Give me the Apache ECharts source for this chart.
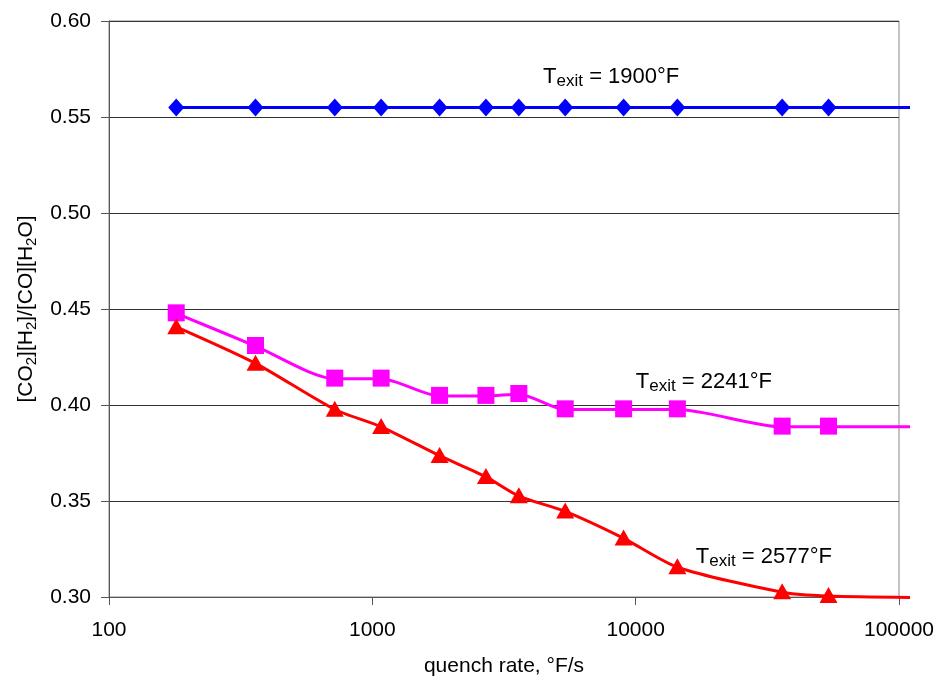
<!DOCTYPE html>
<html>
<head>
<meta charset="utf-8">
<script src="https://cdn.jsdelivr.net/npm/echarts@6/dist/echarts.min.js"></script>
<style>
  html, body { margin: 0; padding: 0; background: #fff; }
  #chart { width: 939px; height: 682px; }
</style>
</head>
<body>
<div id="chart"></div>
<script>
// quench rates, °F/s (marker positions)
const qRate = [180, 360, 720, 1080, 1800, 2700, 3600, 5400, 9000, 14400, 36000, 54000];
// [CO2][H2]/[CO][H2O] for each exit temperature
const ratio1900 = [0.555, 0.555, 0.555, 0.555, 0.555, 0.555, 0.555, 0.555, 0.555, 0.555, 0.555, 0.555];
const ratio2241 = [0.448, 0.431, 0.414, 0.414, 0.405, 0.405, 0.406, 0.398, 0.398, 0.398, 0.389, 0.389];
const ratio2577 = [0.441, 0.422, 0.398, 0.389, 0.374, 0.363, 0.353, 0.345, 0.331, 0.316, 0.303, 0.301];
// the smoothed curves run on past the last marker, a bit beyond the axis end
const curveEndRate = 110000;
const curveEnd = [0.555, 0.389, 0.3003];
// axis ranges
const xRange = [100, 100000];
const yRange = [0.30, 0.60];
const yStep = 0.05;

const font = 'Liberation Sans, Arial, sans-serif';

// label text "T_exit = ...°F"
const rich = {
  t: { fontFamily: font, fontSize: 22, color: '#000', lineHeight: 26 },
  s: { fontFamily: font, fontSize: 17, color: '#000', lineHeight: 13, verticalAlign: 'bottom' }
};

// curves are drawn on a second (hidden) grid that has the same scale
// but reaches a little past 100000, as the lines do in the original
function curve(values, endValue, color, labelText, labelAt) {
  const data = qRate.map((r, i) => [r, values[i]]);
  data.push([curveEndRate, endValue]);
  return {
    type: 'line',
    xAxisIndex: 1,
    yAxisIndex: 1,
    data: data,
    smooth: 0.25,
    showSymbol: false,
    silent: true,
    lineStyle: { color: color, width: 3 },
    markPoint: {
      symbol: 'circle',
      symbolSize: 0,
      silent: true,
      data: [{ coord: labelAt }],
      label: {
        show: true,
        position: 'right',
        distance: 0,
        formatter: '{t|T}{s|exit}{t| = ' + labelText + '°F}',
        rich: rich
      }
    }
  };
}

function markers(values, symbol, size, color) {
  return {
    type: 'scatter',
    data: qRate.map((r, i) => [r, values[i]]),
    symbol: symbol,
    symbolSize: size,
    silent: true,
    itemStyle: { color: color, opacity: 1 }
  };
}

const chart = echarts.init(document.getElementById('chart'));
const option = {
  backgroundColor: '#fff',
  animation: false,
  grid: [
    { left: 109, top: 21, right: 40, bottom: 84, show: true, borderColor: '#888', borderWidth: 1 },
    { left: 109, top: 21, right: 29, bottom: 84 }
  ],
  xAxis: [{
    type: 'log',
    logBase: 10,
    min: xRange[0],
    max: xRange[1],
    name: 'quench rate, °F/s',
    nameLocation: 'middle',
    nameGap: 59,
    nameTextStyle: { fontFamily: font, fontSize: 21, color: '#000' },
    axisLine: { lineStyle: { color: '#555', width: 1 } },
    axisTick: { show: true, length: 8, lineStyle: { color: '#555' } },
    minorTick: { show: false },
    splitLine: { show: false },
    axisLabel: {
      fontFamily: font, fontSize: 21, color: '#000', margin: 23,
      formatter: v => String(Math.round(v))
    }
  }, {
    type: 'log',
    logBase: 10,
    gridIndex: 1,
    min: xRange[0],
    max: curveEndRate,
    show: false
  }],
  yAxis: [{
    type: 'value',
    min: yRange[0],
    max: yRange[1],
    interval: yStep,
    name: '{n|[CO}{s|2}{n|][H}{s|2}{n|]/[CO][H}{s|2}{n|O]}',
    nameLocation: 'middle',
    nameRotate: 90,
    nameGap: 70,
    nameTextStyle: {
      rich: {
        n: { fontFamily: font, fontSize: 21, color: '#000', lineHeight: 26 },
        s: { fontFamily: font, fontSize: 15, color: '#000', lineHeight: 12, verticalAlign: 'bottom' }
      }
    },
    axisLine: { show: true, lineStyle: { color: '#555', width: 1 } },
    axisTick: { show: true, length: 8, lineStyle: { color: '#555' } },
    splitLine: { show: true, lineStyle: { color: '#333', width: 1 } },
    axisLabel: {
      fontFamily: font, fontSize: 21, color: '#000', margin: 18,
      formatter: v => v.toFixed(2)
    }
  }, {
    type: 'value',
    gridIndex: 1,
    min: yRange[0],
    max: yRange[1],
    show: false
  }],
  series: [
    curve(ratio1900, curveEnd[0], '#0000ff', '1900', [4450, 0.5711]),
    markers(ratio1900, 'diamond', [16, 18], '#0000ff'),
    curve(ratio2241, curveEnd[1], '#ff00ff', '2241', [10000, 0.4123]),
    markers(ratio2241, 'rect', 17, '#ff00ff'),
    curve(ratio2577, curveEnd[2], '#ff0000', '2577', [16900, 0.3213]),
    markers(ratio2577, 'triangle', [18, 16], '#ff0000')
  ]
};
chart.setOption(option);
</script>
</body>
</html>
